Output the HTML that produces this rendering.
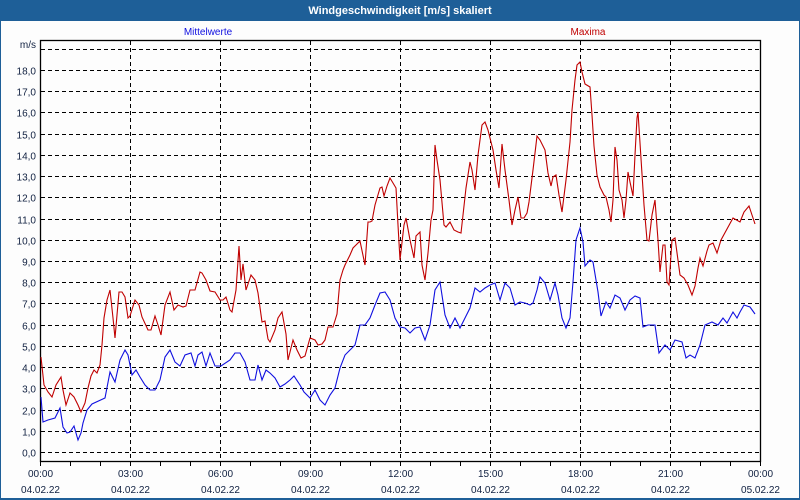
<!DOCTYPE html>
<html><head><meta charset="utf-8"><style>
html,body{margin:0;padding:0;background:#fff;}
svg{display:block;font-family:"Liberation Sans",sans-serif;}
</style></head><body>
<svg width="800" height="500" xmlns="http://www.w3.org/2000/svg">
<rect x="0" y="0" width="800" height="500" fill="#1e5f98"/>
<rect x="1" y="21" width="798" height="477" fill="#fdfdfd"/>
<text x="400" y="14" fill="#fff" font-size="11" font-weight="bold" text-anchor="middle">Windgeschwindigkeit [m/s] skaliert</text>
<text x="208" y="35" fill="#1010e0" font-size="10" text-anchor="middle">Mittelwerte</text>
<text x="588" y="35" fill="#c00000" font-size="10" text-anchor="middle">Maxima</text>
<g stroke="#000" stroke-width="1" stroke-dasharray="4,3" fill="none" id="grid"></g>
<g id="lbl" font-size="10" fill="#102040" text-anchor="end"></g>
<text x="36" y="48" font-size="10" fill="#102040" text-anchor="end">m/s</text>
<rect x="40.5" y="40.5" width="720" height="421" fill="none" stroke="#000" stroke-width="1.3"/>
<g id="xt" font-size="10" fill="#102040" text-anchor="middle"></g>
<polyline id="red" fill="none" stroke="#c00000" stroke-width="1.1" points="41,357 44,385 48,392 52,397 56,385 61,377 63,390 66,405 70,393 74,397 78,405 81,412 85,403 88,388 91,376 94,370 97,373 100,365 102,345 104,318 107,300 110,290 113,318 115,338 119,292 122,292 125,297 128,318 130,316 135,300 139,305 142,317 148,330 151,330 155,316 158,325 161,335 165,305 170,292 174,310 178,305 183,307 186,306 190,290 195,290 200,272 202,273 206,280 210,291 215,292 220,300 223,300 226,297 230,310 232,312 236,290 239,246 241,280 243,264 246,290 251,275 255,280 258,293 262,322 265,321 268,339 270,342 275,330 278,318 282,312 286,334 288,360 293,340 297,350 301,358 305,356 310,338 315,340 318,345 322,344 325,340 328,327 333,327 337,314 340,280 343,270 345,265 350,255 353,248 356,245 360,241 365,265 368,222 370,222 372,221 375,205 380,188 382,187 384,196 387,186 390,178 393,183 396,188 398,225 400,260 404,225 406,218 410,240 414,258 416,236 420,232 422,265 425,280 428,253 431,220 433,210 435,145 437,160 440,180 444,225 446,227 450,222 454,230 458,232 461,233 463,215 466,188 470,162 472,170 475,190 478,155 482,125 485,122 488,130 493,150 496,170 499,188 502,144 505,170 509,200 512,225 515,210 518,197 521,218 524,218 527,213 529,202 531,186 533,170 537,136 540,140 545,150 548,173 551,186 553,177 556,175 559,195 562,212 566,180 570,142 572,110 575,80 577,65 580,62 582,72 585,84 590,87 592,115 594,146 597,175 600,187 604,195 606,197 609,210 611,222 613,200 615,147 617,160 619,190 622,200 624,218 626,200 628,172 630,182 633,196 635,155 637,118 638,112 640,143 644,205 647,240 649,241 652,215 655,200 658,240 660,272 663,245 665,245 667,282 669,285 672,240 675,238 680,275 684,278 688,285 692,295 695,286 698,268 700,258 703,266 707,251 709,245 713,243 717,253 721,240 733,218 740,222 744,212 749,206 752,215 755,224"/>
<polyline id="blue" fill="none" stroke="#1010e0" stroke-width="1.1" points="41,397 43,422 48,420 55,418 60,408 63,427 67,433 70,432 74,426 78,440 81,433 83,423 87,410 92,404 105,398 110,372 115,382 120,360 125,350 128,355 132,375 136,370 140,377 145,385 150,390 155,390 160,380 165,357 170,350 175,362 180,366 185,355 191,353 195,366 198,355 202,352 206,366 210,353 215,366 221,366 230,360 235,353 240,353 245,362 250,380 255,380 258,365 262,380 266,370 270,373 275,378 280,387 285,384 290,380 294,376 300,385 304,392 310,398 315,390 320,400 325,405 330,395 335,388 340,368 345,355 350,350 355,345 360,325 365,325 370,318 375,305 380,293 385,292 390,300 395,318 400,327 405,328 410,333 415,328 420,327 425,340 430,325 435,290 440,282 445,315 450,328 455,318 460,328 465,318 470,308 475,288 480,292 485,288 490,285 495,283 500,300 505,283 510,288 515,305 520,302 525,303 530,305 533,303 537,290 540,277 545,283 550,300 555,283 558,295 562,318 566,328 570,318 573,282 576,240 580,228 583,242 585,266 590,260 593,262 598,292 601,316 606,302 610,308 615,295 620,298 625,310 630,300 635,296 640,298 643,327 648,325 655,325 659,353 665,345 670,350 675,340 682,342 686,358 690,355 695,358 700,345 705,325 712,322 718,325 723,318 727,323 733,312 737,318 740,312 744,305 750,307 755,314"/>
<script>
var ns="http://www.w3.org/2000/svg",g=document.getElementById('grid'),l=document.getElementById('lbl'),xt=document.getElementById('xt');
function el(p,n,a,t){var e=document.createElementNS(ns,n);for(var k in a)e.setAttribute(k,a[k]);if(t)e.textContent=t;p.appendChild(e);return e;}
for(var i=0;i<=19;i++){var y=Math.round(452-i*21.22)+0.5;el(g,'line',{x1:41,x2:760,y1:y,y2:y});if(i<19)el(l,'text',{x:36,y:y+4},i+',0');}
for(var h=3;h<24;h+=3){var x=40+h*30+0.5;el(g,'line',{x1:x,x2:x,y1:41,y2:461});}
var tl=['00:00','03:00','06:00','09:00','12:00','15:00','18:00','21:00','00:00'];
for(var h=0;h<=24;h++){var x=40+h*30+0.5;el(document.querySelector('svg'),'line',{x1:x,x2:x,y1:462,y2:466,stroke:'#000','stroke-width':1});
if(h%3==0){el(xt,'text',{x:x,y:477},tl[h/3]);el(xt,'text',{x:x,y:493},h==24?'05.02.22':'04.02.22');}}
</script>
</svg>
</body></html>
